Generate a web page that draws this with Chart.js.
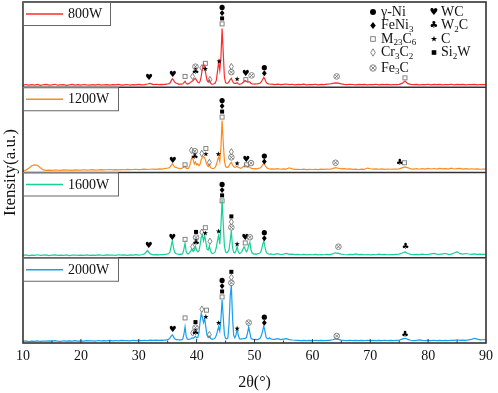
<!DOCTYPE html>
<html>
<head>
<meta charset="utf-8">
<script src="https://cdn.jsdelivr.net/npm/chart.js@4.4.1/dist/chart.umd.min.js"></script>
<style>
  html, body { margin: 0; padding: 0; background: #fff; }
  #wrap { width: 498px; height: 393px; }
</style>
</head>
<body>
<div id="wrap"><canvas id="xrdChart" width="498" height="393"></canvas></div>
<script>
// 2-theta values shared by every pattern (coarse outside the peak zone, fine inside)
const angles = [
  10,10.5,11,11.5,12,12.5,13,13.5,14,14.5,
  15,15.5,16,16.5,17,17.5,18,18.5,19,19.5,
  20,20.5,21,21.5,22,22.5,23,23.5,24,24.5,
  25,25.5,26,26.5,27,27.5,28,28.5,29,29.5,
  30,30.5,31,31.5,32,32.5,33,33.5,34,
  34.2,34.4,34.6,34.8,35,35.2,35.4,35.6,35.8,36,
  36.2,36.4,36.6,36.8,37,37.2,37.4,37.6,37.8,38,
  38.2,38.4,38.6,38.8,39,39.2,39.4,39.6,39.8,40,
  40.2,40.4,40.6,40.8,41,41.2,41.4,41.6,41.8,42,
  42.2,42.4,42.6,42.8,43,43.2,43.4,43.6,43.8,44,
  44.2,44.4,44.6,44.8,45,45.2,45.4,45.6,45.8,46,
  46.2,46.4,46.6,46.8,47,47.2,47.4,47.6,47.8,48,
  48.2,48.4,48.6,48.8,49,49.2,49.4,49.6,49.8,50,
  50.2,50.4,50.6,50.8,51,51.2,51.4,51.6,51.8,52,
  52.2,52.4,52.6,52.8,53,
  53.5,54,54.5,55,55.5,56,56.5,57,57.5,58,
  58.5,59,59.5,60,60.5,61,61.5,62,62.5,63,
  63.5,64,64.5,65,65.5,66,66.5,67,67.5,68,
  68.5,69,69.5,70,70.5,71,71.5,72,72.5,73,
  73.5,74,74.5,75,75.5,76,76.5,77,77.5,78,
  78.5,79,79.5,80,80.5,81,81.5,82,82.5,83,
  83.5,84,84.5,85,85.5,86,86.5,87,87.5,88,
  88.5,89,89.5,90
];

// intensities, in % of one panel height
const w800 = [
  2.5,3.2,2.4,3.0,2.6,3.4,2.2,2.9,3.3,2.5,
  2.8,3.5,2.4,2.9,3.1,2.3,2.8,3.4,2.6,3.0,
  2.4,3.2,2.7,2.5,3.1,2.6,3.3,2.4,2.9,3.1,
  2.5,3.0,2.7,3.4,2.6,2.9,3.2,2.5,3.0,2.8,
  3.3,2.7,3.1,3.8,4.6,3.2,3.5,3.0,3.4,
  3.2,3.5,3.3,3.6,3.8,4.2,5.0,7.5,10.0,8.5,
  6.0,5.0,4.5,4.0,3.5,3.8,3.6,4.0,5.5,7.0,
  4.5,3.8,4.2,5.0,6.0,7.0,8.0,9.5,10.5,8.0,
  6.0,5.0,7.0,13.0,22.0,27.5,24.0,15.0,8.0,6.0,
  8.5,5.0,3.5,3.5,4.0,5.0,8.0,18.0,29.0,20.0,
  35.0,69.0,40.0,12.0,5.5,4.5,5.0,6.5,9.0,10.5,
  7.0,5.0,4.5,4.5,5.5,4.0,3.5,3.8,4.5,5.5,
  7.0,8.0,7.0,6.0,6.5,6.0,4.5,4.0,3.8,3.6,
  4.0,3.8,4.2,4.5,5.0,6.5,9.0,11.5,9.5,6.0,
  4.5,4.0,3.8,3.5,3.6,
  3.2,3.6,3.0,3.4,3.8,3.1,3.5,2.9,3.3,3.0,
  3.6,2.8,3.2,3.0,3.5,2.9,3.3,3.1,3.6,3.8,
  4.5,5.2,4.8,3.9,3.4,3.0,3.5,3.2,2.9,3.4,
  3.1,3.3,2.8,3.2,3.0,3.5,2.9,3.3,3.0,3.4,
  2.8,3.2,3.1,3.4,4.5,7.2,4.2,3.3,3.0,3.4,
  2.9,3.2,3.0,3.5,2.8,3.3,3.1,3.4,2.9,3.2,
  3.0,3.5,2.9,3.3,3.0,3.4,2.8,3.2,3.0,3.4,
  2.9,3.2,3.0,3.1
];
const w1200 = [
  2.5,2.8,5.0,8.0,9.0,8.5,5.5,3.0,2.6,2.8,
  2.5,2.9,2.7,2.6,3.0,2.7,2.9,2.6,3.1,2.8,
  2.9,3.2,2.8,3.0,3.3,2.9,3.1,3.4,3.0,3.2,
  3.5,3.1,3.3,3.0,3.4,3.2,3.6,3.3,3.5,3.8,
  3.4,3.6,3.9,3.5,3.8,4.0,3.7,4.2,4.0,
  4.3,4.5,4.8,5.0,5.2,5.5,6.5,8.5,10.5,8.0,
  6.5,6.0,5.5,5.0,4.8,4.5,4.8,5.5,6.5,7.5,
  5.0,4.5,5.0,8.0,13.0,18.5,15.0,10.0,12.5,9.0,
  10.0,8.0,10.0,15.0,18.0,18.5,17.0,13.0,9.0,7.0,
  9.5,6.0,5.0,4.5,5.0,6.0,9.0,14.0,18.0,13.0,
  30.0,61.0,35.0,14.0,7.0,6.0,6.0,8.0,10.5,12.0,
  9.0,7.0,6.0,6.5,7.5,6.0,5.5,5.0,5.5,6.5,
  7.5,8.5,7.5,6.5,7.0,6.0,5.0,4.5,4.5,4.2,
  4.5,4.3,4.8,5.0,5.5,7.0,9.0,10.5,9.0,6.5,
  5.0,4.5,4.2,4.0,4.2,
  4.0,4.6,3.8,4.2,4.0,5.5,4.2,3.6,3.8,3.5,
  3.9,3.4,3.7,3.5,3.8,3.4,3.9,3.6,4.0,3.8,
  4.6,5.6,5.0,4.3,4.6,3.9,4.2,3.6,3.9,3.5,
  4.0,3.6,5.2,4.4,4.0,4.3,3.8,4.2,3.7,4.1,
  3.8,4.0,3.9,4.3,5.5,6.5,5.5,4.2,3.9,4.5,
  3.8,4.6,4.0,4.8,4.1,4.7,3.9,4.9,4.2,4.6,
  4.0,5.0,4.1,4.5,4.8,4.0,4.6,3.9,4.4,4.0,
  4.3,3.8,4.0,3.9
];
const w1600 = [
  2.8,3.4,2.6,3.1,2.9,3.5,2.7,3.0,3.3,2.6,
  3.0,3.4,2.7,3.1,2.8,3.3,2.6,3.0,3.2,2.7,
  3.1,2.8,3.4,2.9,3.1,2.7,3.3,3.0,2.8,3.4,
  3.0,3.2,2.9,3.5,3.0,3.3,2.9,3.4,3.1,3.6,
  3.2,3.5,4.5,8.5,4.5,3.4,3.7,3.3,3.8,
  3.6,4.0,3.8,4.2,4.5,5.0,7.0,14.0,20.0,12.0,
  6.5,5.0,4.5,4.2,4.0,4.2,4.0,5.0,10.0,17.0,
  7.0,4.5,4.8,6.0,8.0,10.0,7.5,9.0,13.5,9.0,
  7.0,8.0,15.0,24.0,26.0,20.0,26.0,18.0,10.0,9.0,
  14.0,8.0,5.5,5.0,5.5,7.0,12.0,20.0,26.0,16.0,
  38.0,68.0,40.0,14.0,7.0,6.0,7.0,10.0,20.0,32.0,
  12.0,6.5,5.5,8.0,13.5,7.0,5.0,5.5,7.0,10.0,
  13.0,10.0,7.0,9.0,15.0,18.0,9.0,5.5,4.5,4.2,
  4.5,4.3,4.8,5.0,6.0,9.0,15.0,20.0,13.0,7.0,
  5.0,4.5,4.2,4.5,4.2,
  4.0,4.8,3.8,4.3,5.0,3.9,4.2,3.6,4.0,3.5,
  3.9,3.4,3.8,3.5,3.9,3.4,3.8,3.5,3.9,3.7,
  4.5,5.8,5.2,4.2,3.8,3.5,4.0,3.6,4.5,3.7,
  3.9,3.5,3.8,3.4,3.7,3.5,4.2,3.6,3.9,3.5,
  3.8,3.6,3.9,4.2,5.5,6.8,5.0,4.0,3.7,4.0,
  3.6,4.2,3.8,4.0,4.5,5.2,4.2,4.0,4.6,5.0,
  4.0,4.2,5.5,7.0,4.8,4.2,5.0,4.4,4.0,4.5,
  4.0,4.3,3.9,4.1
];
const w2000 = [
  1.8,2.4,1.7,2.2,2.0,2.5,1.8,2.3,2.1,2.6,
  2.2,2.8,2.3,2.0,2.6,2.2,2.5,2.1,2.7,2.3,
  2.5,2.2,2.8,2.4,2.6,2.3,2.9,2.5,2.7,2.4,
  3.0,2.6,2.9,2.5,3.1,2.7,2.9,2.6,3.2,2.8,
  3.0,2.7,3.2,2.9,3.3,3.0,3.4,3.1,3.3,
  3.2,3.5,3.4,3.7,4.0,4.5,6.0,8.0,9.5,7.5,
  5.0,4.2,4.0,3.8,3.6,3.8,3.7,4.5,10.0,19.0,
  8.0,4.5,4.2,4.5,5.0,6.0,5.5,6.5,8.0,6.0,
  6.5,12.0,25.0,34.5,30.0,24.0,28.5,18.0,9.0,6.5,
  8.0,5.5,4.5,4.5,5.0,6.0,9.0,14.0,19.0,14.0,
  28.0,50.5,30.0,10.0,5.5,5.0,6.0,22.0,55.0,68.0,
  30.0,9.0,6.0,9.0,17.0,9.0,5.0,4.5,4.8,5.0,
  5.5,5.2,6.5,12.0,19.0,12.0,5.5,4.5,4.2,4.0,
  4.2,4.0,4.3,4.8,6.0,9.0,14.0,20.0,14.0,7.0,
  5.0,4.8,6.0,5.0,4.5,
  4.2,5.0,4.0,4.6,5.2,4.0,3.5,3.2,3.0,2.8,
  3.1,2.7,3.0,2.6,3.2,2.8,3.0,2.7,3.1,3.0,
  3.8,4.8,4.2,3.4,3.0,2.8,3.2,2.9,3.1,2.7,
  3.0,2.8,3.2,2.9,3.1,2.7,3.0,2.8,3.2,2.9,
  3.0,2.7,3.1,3.2,4.5,5.5,4.2,3.2,2.9,3.1,
  3.6,3.0,2.8,3.1,2.9,3.2,2.8,3.0,2.7,3.1,
  2.9,3.2,3.0,3.6,3.0,3.3,3.1,3.6,4.2,5.5,
  4.5,3.6,3.8,4.0
];

const powers = ['800W', '1200W', '1600W', '2000W'];
const colors = ['#ff2b2b', '#ff8a1c', '#17d096', '#179ff0'];
const patterns = [w800, w1200, w1600, w2000];

// phase marks: [2theta, height of lowest symbol, symbols from top to bottom]
const marks800 = [
  [31.8, 11.5, 'wc'], [35.9, 15, 'wc'], [38.0, 12.7, 'm23'], [39.3, 12.7, 'cr'],
  [39.8, 17.7, 'fe3c w2c'], [40.9, 22.7, 'cr'], [41.5, 21.6, 'm23 c'], [42.3, 9, 'cr'],
  [43.9, 30.4, 'c'], [44.4, 74.3, 'ni feni si2w m23'], [46.0, 17.7, 'cr fe3c'],
  [47.0, 9.6, 'c'], [48.5, 8.9, 'wc m23'], [49.5, 13.9, 'fe3c'], [51.7, 16.5, 'ni feni'],
  [64.2, 12.7, 'fe3c'], [76.0, 11, 'm23']
];
const marks1200 = [
  [35.9, 13.6, 'wc'], [38.0, 9, 'm23'], [39.1, 26, 'cr'], [39.7, 18.5, 'fe3c w2c'],
  [40.9, 22.3, 'cr'], [41.6, 21.6, 'm23 c'], [42.2, 11.7, 'cr'], [43.75, 21.6, 'c'],
  [44.4, 65, 'ni feni si2w m23'], [46.0, 17.8, 'cr fe3c'], [47.0, 10.6, 'c'],
  [48.6, 9, 'wc m23'], [49.4, 11, 'fe3c'], [51.7, 12.8, 'ni feni'],
  [64.0, 11.4, 'fe3c'], [75.1, 11.4, 'w2c'], [75.9, 11.4, 'm23']
];
const marks1600 = [
  [31.75, 13.6, 'wc'], [35.8, 23, 'wc'], [38.0, 21.6, 'm23'], [39.3, 12.8, 'cr'],
  [39.9, 17.4, 'si2w fe3c w2c'], [40.9, 30, 'cr'], [41.5, 28.8, 'm23 c'], [42.3, 19.3, 'cr'],
  [43.8, 31, 'c'], [44.4, 66.7, 'ni feni si2w m23'], [46.0, 35.6, 'si2w cr fe3c'],
  [47.0, 16, 'c'], [48.4, 17.4, 'wc m23'], [49.2, 24, 'fe3c'], [51.7, 23, 'ni feni'],
  [64.5, 12.9, 'fe3c'], [76.1, 12.9, 'w2c']
];
const marks2000 = [
  [35.9, 15, 'wc'], [38.0, 29.4, 'm23'], [39.3, 11.8, 'cr'], [39.8, 11.6, 'si2w fe3c w2c'],
  [40.9, 39.6, 'cr'], [41.7, 38.5, 'm23'], [41.6, 30.6, 'c'], [42.2, 9.8, 'cr'],
  [43.8, 23.5, 'c'], [44.4, 54, 'ni feni si2w m23'], [46.0, 70.6, 'si2w cr fe3c'],
  [47.0, 16.8, 'c'], [49.0, 23.9, 'fe3c'], [51.7, 23.9, 'ni feni'],
  [64.2, 8.2, 'fe3c'], [76.0, 10.2, 'w2c']
];
const marks = [marks800, marks1200, marks1600, marks2000];

const phaseKeys = ['ni', 'feni', 'm23', 'cr', 'fe3c', 'wc', 'w2c', 'c', 'si2w'];
const phaseNames = ['γ-Ni', 'FeNi_3', 'M_23C_6', 'Cr_3C_2', 'Fe_3C', 'WC', 'W_2C', 'C', 'Si_2W'];

patterns.forEach((p, i) => {
  if (p.length !== angles.length) throw new Error(powers[i] + ' has ' + p.length + ' values, expected ' + angles.length);
});

const serif = '"Liberation Serif", "Times New Roman", serif';
Chart.defaults.font.family = serif;
Chart.defaults.color = '#111';

function drawSym(ctx, k, cx, cy, s) {
  s = s || 1;
  ctx.save();
  ctx.fillStyle = '#000';
  ctx.strokeStyle = '#777';
  ctx.lineWidth = 0.9;
  ctx.beginPath();
  if (k === 'ni') {
    ctx.arc(cx, cy, 2.6 * s, 0, Math.PI * 2);
    ctx.fill();
  } else if (k === 'feni') {
    ctx.moveTo(cx, cy - 3 * s); ctx.lineTo(cx + 2.4 * s, cy);
    ctx.lineTo(cx, cy + 3 * s); ctx.lineTo(cx - 2.4 * s, cy);
    ctx.closePath(); ctx.fill();
  } else if (k === 'm23') {
    ctx.strokeRect(cx - 2 * s, cy - 2 * s, 4 * s, 4 * s);
  } else if (k === 'cr') {
    ctx.moveTo(cx, cy - 3.2 * s); ctx.lineTo(cx + 2 * s, cy);
    ctx.lineTo(cx, cy + 3.2 * s); ctx.lineTo(cx - 2 * s, cy);
    ctx.closePath(); ctx.stroke();
  } else if (k === 'fe3c') {
    const r = 2.8 * s, d = r * 0.6;
    ctx.arc(cx, cy, r, 0, Math.PI * 2);
    ctx.moveTo(cx - d, cy - d); ctx.lineTo(cx + d, cy + d);
    ctx.moveTo(cx + d, cy - d); ctx.lineTo(cx - d, cy + d);
    ctx.stroke();
  } else if (k === 'wc' || k === 'w2c') {
    ctx.font = (8.5 * s) + 'px "DejaVu Sans"';
    ctx.textAlign = 'center';
    ctx.textBaseline = 'middle';
    ctx.fillText(k === 'wc' ? '♥' : '♣', cx, cy);
  } else if (k === 'c') {
    for (let j = 0; j < 10; j++) {
      const r = (j % 2 ? 1.1 : 2.8) * s;
      const a = -Math.PI / 2 + j * Math.PI / 5;
      ctx.lineTo(cx + r * Math.cos(a), cy + r * Math.sin(a));
    }
    ctx.closePath(); ctx.fill();
  } else if (k === 'si2w') {
    ctx.fillRect(cx - 2 * s, cy - 2 * s, 4 * s, 4 * s);
  }
  ctx.restore();
}

// text where "_23" means subscript 23
function drawRich(ctx, str, x, y) {
  const parts = str.split(/_(\d+)/);
  ctx.textAlign = 'left';
  ctx.textBaseline = 'middle';
  parts.forEach((t, j) => {
    if (!t) return;
    ctx.font = (j % 2 ? '9px ' : '14px ') + serif;
    ctx.fillText(t, x, j % 2 ? y + 4 : y);
    x += ctx.measureText(t).width;
  });
}

const overlay = {
  id: 'overlay',
  afterDatasetsDraw(chart) {
    const { ctx, chartArea: a, scales: { x, y } } = chart;
    ctx.save();

    // frame and panel separators
    ctx.strokeStyle = '#333';
    ctx.lineWidth = 1.6;
    ctx.strokeRect(a.left, a.top, a.right - a.left, a.bottom - a.top);
    [100, 200, 300].forEach(v => {
      const py = y.getPixelForValue(v);
      ctx.beginPath(); ctx.moveTo(a.left, py); ctx.lineTo(a.right, py); ctx.stroke();
    });

    // inward ticks along the bottom
    ctx.lineWidth = 1;
    for (let t = 15; t < 90; t += 5) {
      const px = x.getPixelForValue(t);
      const len = t % 10 === 0 ? 4 : 2.5;
      ctx.beginPath(); ctx.moveTo(px, a.bottom); ctx.lineTo(px, a.bottom - len); ctx.stroke();
    }

    // series boxes
    powers.forEach((p, i) => {
      const top = y.getPixelForValue((4 - i) * 100);
      const w = i === 0 ? 87 : 95;
      ctx.fillStyle = '#fff';
      ctx.fillRect(a.left, top, w, 23);
      ctx.strokeStyle = '#666';
      ctx.lineWidth = 1;
      ctx.strokeRect(a.left + 0.5, top + 0.5, w, 23);
      ctx.strokeStyle = colors[i];
      ctx.lineWidth = 1.5;
      ctx.beginPath(); ctx.moveTo(a.left + 3, top + 12); ctx.lineTo(a.left + 40, top + 12); ctx.stroke();
      ctx.fillStyle = '#111';
      ctx.font = '14px ' + serif;
      ctx.textAlign = 'left';
      ctx.textBaseline = 'middle';
      ctx.fillText(p, a.left + 45, top + 12.5);
    });

    // phase legend
    const rows = [12, 25.5, 39, 52.5, 68];
    ctx.fillStyle = '#111';
    phaseKeys.forEach((k, j) => {
      const col = j < 5 ? 0 : 1;
      const ry = rows[col ? j - 5 : j];
      const sx = col ? 434 : 373;
      drawSym(ctx, k, sx, ry, 1.15);
      ctx.fillStyle = '#111';
      drawRich(ctx, phaseNames[j], col ? 441 : 381, ry);
    });

    // peak identifications
    marks.forEach((list, i) => {
      const off = (3 - i) * 100;
      list.forEach(([t, v, keys]) => {
        const px = x.getPixelForValue(t);
        const py = y.getPixelForValue(off + v);
        keys.split(' ').reverse().forEach((k, j) => drawSym(ctx, k, px, py - j * 5.5));
      });
    });

    ctx.restore();
  }
};

const datasets = patterns.map((p, i) => ({
  label: powers[i],
  data: angles.map((a, k) => ({ x: a, y: (3 - i) * 100 + p[k] })),
  borderColor: colors[i],
  borderWidth: 1.2,
  pointRadius: 0,
  tension: 0,
  fill: false
}));

new Chart(document.getElementById('xrdChart').getContext('2d'), {
  type: 'line',
  data: { datasets: datasets },
  options: {
    responsive: false,
    animation: false,
    layout: { padding: { left: 0, right: 8, top: 2, bottom: 0 } },
    scales: {
      x: {
        type: 'linear',
        min: 10,
        max: 90,
        grid: { display: false, drawTicks: false },
        border: { display: false },
        ticks: { stepSize: 10, padding: 5, font: { size: 14 }, color: '#111' },
        title: { display: true, text: '2θ(°)', font: { size: 16 }, color: '#111', padding: { top: 3.3, bottom: 0.7 } }
      },
      y: {
        min: 0,
        max: 400,
        grid: { display: false, drawTicks: false },
        border: { display: false },
        ticks: { display: false },
        title: { display: true, text: 'Itensity(a.u.)', font: { size: 17 }, color: '#111', padding: { top: 0, bottom: 2.6 } }
      }
    },
    plugins: {
      legend: { display: false },
      tooltip: { enabled: false }
    }
  },
  plugins: [overlay]
});
</script>
</body>
</html>
